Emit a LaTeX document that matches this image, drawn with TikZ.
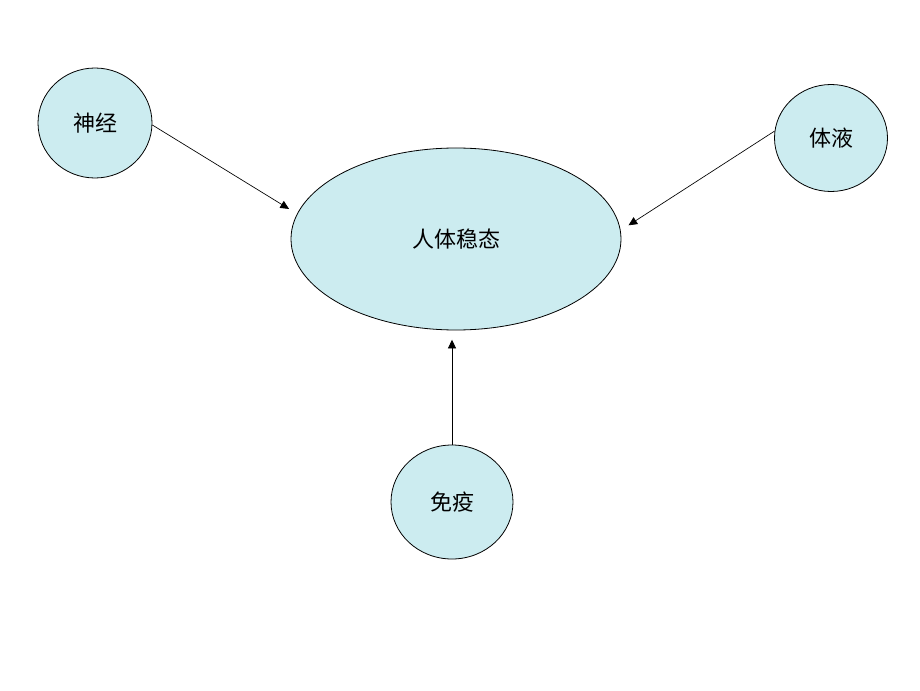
\documentclass[tikz,border=0pt]{standalone}
\usepackage{fontspec}
\setmainfont{Noto Sans CJK SC}
\usepackage{tikz}
\usetikzlibrary{shapes.geometric}
\usetikzlibrary{positioning, arrows.meta}

\definecolor{bubblefill}{RGB}{204,236,240}

\begin{document}
\begin{tikzpicture}[x=0.75pt,y=0.75pt]
\tikzstyle{every node}+=[inner sep=0pt]
\tikzstyle{bubble}=[ellipse, draw=black, line width=0.6pt, fill=bubblefill, font=\fontsize{16.5}{18}\selectfont]
\tikzstyle{link}=[line width=0.5pt, -{Triangle[length=6.5pt,width=6pt]}, shorten >=7pt]
\useasboundingbox (0,0) rectangle (920,690);
\fill [white] (0,0) rectangle (920,690);
\node [bubble, minimum width=85.5pt, minimum height=82.5pt] (shenjing) at (95,567) {神经};
\node [bubble, minimum width=84.75pt, minimum height=80.25pt] (tiye) at (831,552) {体液};
\node [bubble, minimum width=247.5pt, minimum height=136.5pt] (wentai) at (456,451) {人体稳态};
\node [bubble, minimum width=91.5pt, minimum height=85.5pt] (mianyi) at (452,188) {免疫};
\draw [link] (shenjing.-2) -- (wentai.171);
\draw [link] (tiye.173) -- (wentai.3);
\draw [link] (mianyi.north) -- (mianyi.north |- wentai.south);
\end{tikzpicture}
\end{document}
